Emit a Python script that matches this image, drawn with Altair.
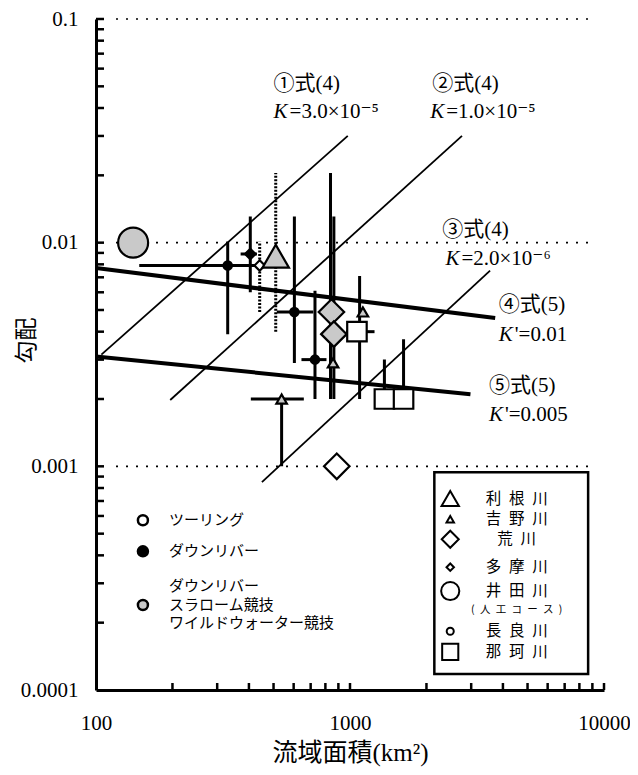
import altair as alt
import pandas as pd

# ---------------- data ----------------
# reference lines (two end points each): equation number, equation, basin area, gradient
line_id = ["①", "①", "②", "②", "③", "③", "④", "④", "⑤", "⑤"]
line_eq = ["式(4)", "式(4)", "式(4)", "式(4)", "式(4)", "式(4)", "式(5)", "式(5)", "式(5)", "式(5)"]
line_area = [105, 980, 196, 2760, 450, 3560, 100, 3730, 100, 2980]
line_grad = [0.00316, 0.0300, 0.00198, 0.0300, 0.00085, 0.0075, 0.0077, 0.0046, 0.0031, 0.0021]

# observed points
pt_area = [140, 330, 405, 441, 510, 604, 728, 845, 864, 858, 1124, 1065, 1366, 1625, 538, 887]
pt_grad = [0.0100, 0.0079, 0.0089, 0.0079, 0.0087, 0.0049, 0.0030, 0.0049, 0.0039,
           0.0029, 0.0049, 0.0040, 0.0020, 0.0020, 0.0020, 0.0010]
pt_river = ["井田川", "長良川", "多摩川", "多摩川", "利根川", "長良川", "長良川", "荒川", "荒川",
            "吉野川", "吉野川", "那珂川", "那珂川", "那珂川", "吉野川", "荒川"]
pt_type = ["競技", "ダウンリバー", "ダウンリバー", "ツーリング", "競技", "ダウンリバー", "ダウンリバー",
           "競技", "競技", "競技", "競技", "ツーリング", "ツーリング", "ツーリング", "競技", "ツーリング"]

# vertical ranges (gradient)
vb_area = [330, 405, 441, 510, 604, 728, 838, 864, 1091, 1366, 1625, 538]
vb_lo = [0.0039, 0.0060, 0.0049, 0.0040, 0.0029, 0.0020, 0.0020, 0.0020, 0.0020, 0.0020, 0.0020, 0.0010]
vb_hi = [0.0101, 0.0131, 0.0101, 0.0205, 0.0131, 0.0061, 0.0205, 0.0131, 0.0071, 0.0030, 0.0037, 0.0020]
vb_kind = ["実線", "実線", "点線", "点線", "実線", "実線", "太線", "太線", "太線", "実線", "実線", "実線"]

# horizontal ranges (basin area)
hb_grad = [0.0079, 0.0089, 0.0049, 0.0030, 0.0040, 0.0020]
hb_lo = [148, 371, 515, 644, 965, 407]
hb_hi = [450, 430, 717, 808, 1249, 658]

# equation annotations
eq_text = ["①式(4)", "②式(4)", "③式(4)", "④式(5)", "⑤式(5)"]
eq_area = [500, 2110, 2308, 3854, 3523]
eq_grad = [0.0513, 0.0513, 0.01143, 0.00528, 0.00228]
k_rest = ["=3.0×10⁻⁵", "=1.0×10⁻⁵", "=2.0×10⁻⁶", "'=0.01", "'=0.005"]
k_area = [500, 2070, 2375, 3854, 3523]
k_grad = [0.0385, 0.0385, 0.00849, 0.00388, 0.0017]

# river legend (box at lower right)
rivers = ["利根川", "吉野川", "荒川", "多摩川", "井田川", "長良川", "那珂川"]
river_label = ["利\u2002根\u2002川", "吉\u2002野\u2002川", "荒\u2002川", "多\u2002摩\u2002川",
               "井\u2002田\u2002川", "長\u2002良\u2002川", "那\u2002珂\u2002川"]
river_leg_grad = [0.000718, 0.000580, 0.000472, 0.000354, 0.000277, 0.000183, 0.000148]
river_leg_sym_area = 2481
river_leg_txt_area = 4530
note_text = ["(\u2002人\u2002工\u2002コ\u2002ー\u2002ス\u2002)"]
note_grad = [0.000228]
box_area = [2148, 8660]
box_grad = [0.000118, 0.00094]

# activity legend (lower left)
types = ["ツーリング", "ダウンリバー", "競技"]
type_sym_grad = [0.000574, 0.000417, 0.000240]
type_leg_sym_area = 153
type_text_rows = ["ツーリング", "ダウンリバー", "ダウンリバー", "スラローム競技", "ワイルドウォーター競技"]
type_text_grad = [0.000574, 0.000417, 0.000291, 0.000241, 0.000199]
type_leg_txt_area = 194

# axis ticks
y_ticks = [0.0002, 0.0003, 0.0004, 0.0005, 0.0006, 0.0007, 0.0008, 0.0009, 0.001,
           0.002, 0.003, 0.004, 0.005, 0.006, 0.007, 0.008, 0.009, 0.01,
           0.02, 0.03, 0.04, 0.05, 0.06, 0.07, 0.08, 0.09, 0.1]
x_ticks = [200, 300, 400, 500, 600, 700, 800, 900, 1000,
           2000, 3000, 4000, 5000, 6000, 7000, 8000, 9000, 10000]
grid_vals = [0.1, 0.01, 0.001]

# ---------------- chart ----------------
W, H = 508, 671
SERIF = "Liberation Serif, Noto Sans CJK JP"
JP = "Noto Sans CJK JP"

xs = alt.Scale(type="log", domain=[100, 10000])
ys = alt.Scale(type="log", domain=[0.0001, 0.1])

x_axis = alt.Axis(values=[100, 1000, 10000], format="d", labelFont="Liberation Serif",
                  labelFontSize=21, labelColor="black", labelPadding=22, labelFlush=False,
                  labelOverlap=False, ticks=False, tickSize=0, domainColor="black",
                  domainWidth=3, grid=False, title="流域面積(km²)", titleFont=SERIF,
                  titleFontSize=25, titleFontWeight="normal", titleColor="black",
                  titleBaseline="middle", titleY=62)
y_axis = alt.Axis(values=[0.0001, 0.001, 0.01, 0.1], format="~g", labelFont="Liberation Serif",
                  labelFontSize=21, labelColor="black", labelPadding=18, labelOverlap=False,
                  labelFlush=False, ticks=False, tickSize=0, domainColor="black", domainWidth=3,
                  grid=False, title="勾配", titleFont=JP, titleFontSize=23,
                  titleFontWeight="normal", titleColor="black", titleAngle=270,
                  titleAlign="center", titleBaseline="middle", titleX=-70, titleY=321)


def X(f):
    return alt.X(f, type="quantitative", scale=xs, axis=x_axis)


def Y(f):
    return alt.Y(f, type="quantitative", scale=ys, axis=y_axis)


shape_scale = alt.Scale(domain=rivers, range=["triangle-up", "triangle-up", "diamond", "diamond",
                                              "circle", "circle", "square"])
fill_scale = alt.Scale(domain=types, range=["white", "black", "#c9c9c9"])

lines_df = pd.DataFrame({"id": line_id, "eq": line_eq, "area": line_area, "grad": line_grad})
pts_df = pd.DataFrame({"area": pt_area, "grad": pt_grad, "river": pt_river, "type": pt_type})
vb_df = pd.DataFrame({"area": vb_area, "lo": vb_lo, "hi": vb_hi, "kind": vb_kind})
hb_df = pd.DataFrame({"grad": hb_grad, "lo": hb_lo, "hi": hb_hi})
eq_df = pd.DataFrame({"area": eq_area, "grad": eq_grad, "t": eq_text})
k_df = pd.DataFrame({"area": k_area, "grad": k_grad, "t": k_rest})
leg_df = pd.DataFrame({"river": rivers, "label": river_label, "grad": river_leg_grad,
                       "sx": [river_leg_sym_area] * len(rivers),
                       "tx": [river_leg_txt_area] * len(rivers)})
note_df = pd.DataFrame({"t": note_text, "grad": note_grad, "tx": [river_leg_txt_area]})
box_df = pd.DataFrame({"x1": [box_area[0]], "x2": [box_area[1]],
                       "y1": [box_grad[0]], "y2": [box_grad[1]]})
type_df = pd.DataFrame({"type": types, "sg": type_sym_grad, "sx": [type_leg_sym_area] * 3})
type_txt_df = pd.DataFrame({"t": type_text_rows, "tg": type_text_grad,
                            "tx": [type_leg_txt_area] * len(type_text_rows)})
yt_df = pd.DataFrame({"v": y_ticks})
xt_df = pd.DataFrame({"v": x_ticks})
grid_df = pd.DataFrame({"g": grid_vals})

grid = alt.Chart(grid_df).mark_rule(color="black", strokeWidth=1.6, strokeDash=[2, 8]).encode(
    y=Y("g"), x=alt.value(20), x2=alt.value(498))

lines = alt.Chart(lines_df).mark_line(color="black").encode(
    x=X("area"), y=Y("grad"), detail="id:N",
    strokeWidth=alt.StrokeWidth("eq:N", scale=alt.Scale(domain=["式(4)", "式(5)"], range=[1.8, 4]),
                                legend=None))

vbars = alt.Chart(vb_df).mark_rule(color="black").encode(
    x=X("area"), y=Y("lo"), y2="hi",
    strokeWidth=alt.StrokeWidth("kind:N", scale=alt.Scale(domain=["実線", "点線", "太線"],
                                                          range=[3, 3, 4.5]), legend=None),
    strokeDash=alt.StrokeDash("kind:N", scale=alt.Scale(domain=["実線", "点線", "太線"],
                                                        range=[[1, 0], [2, 1.5], [1, 0]]),
                              legend=None))

hbars = alt.Chart(hb_df).mark_rule(color="black", strokeWidth=3).encode(
    x=X("lo"), x2="hi", y=Y("grad"))

points = alt.Chart(pts_df).mark_point(filled=True, stroke="black", strokeWidth=2.2, opacity=1).encode(
    x=X("area"), y=Y("grad"),
    shape=alt.Shape("river:N", scale=shape_scale, legend=None),
    size=alt.Size("river:N", scale=alt.Scale(type="ordinal", domain=rivers,
                                             range=[700, 110, 650, 110, 900, 70, 380]), legend=None),
    fill=alt.Fill("type:N", scale=fill_scale, legend=None))

eq_labels = alt.Chart(eq_df).mark_text(align="left", baseline="middle", font=SERIF, fontSize=21,
                                       color="black").encode(x=X("area"), y=Y("grad"), text="t:N")
k_italic = alt.Chart(k_df).mark_text(align="left", baseline="middle", font="Liberation Serif",
                                     fontStyle="italic", fontSize=21, color="black").encode(
    x=X("area"), y=Y("grad"), text=alt.value("K"))
k_labels = alt.Chart(k_df).mark_text(align="left", baseline="middle", font="Liberation Serif, DejaVu Serif",
                                     fontSize=21, color="black", dx=16).encode(
    x=X("area"), y=Y("grad"), text="t:N")

box = alt.Chart(box_df).mark_rect(fill="white", stroke="black", strokeWidth=2.5).encode(
    x=X("x1"), x2="x2", y=Y("y1"), y2="y2")

leg_sym = alt.Chart(leg_df).mark_point(filled=True, fill="white", stroke="black", strokeWidth=2,
                                       opacity=1).encode(
    x=X("sx"), y=Y("grad"),
    shape=alt.Shape("river:N", scale=shape_scale, legend=None),
    size=alt.Size("river:N", scale=alt.Scale(type="ordinal", domain=rivers,
                                             range=[300, 55, 290, 55, 330, 50, 260]), legend=None))
leg_txt = alt.Chart(leg_df).mark_text(align="center", baseline="middle", font=JP, fontSize=15.5,
                                      color="black").encode(x=X("tx"), y=Y("grad"), text="label:N")
note_txt = alt.Chart(note_df).mark_text(align="center", baseline="middle", font=JP, fontSize=10.5,
                                        color="black").encode(x=X("tx"), y=Y("grad"), text="t:N")

type_sym = alt.Chart(type_df).mark_point(shape="circle", filled=True, stroke="black", strokeWidth=2.5,
                                         size=100, opacity=1).encode(
    x=X("sx"), y=Y("sg"), fill=alt.Fill("type:N", scale=fill_scale, legend=None))
type_txt = alt.Chart(type_txt_df).mark_text(align="left", baseline="middle", font=JP, fontSize=15,
                                            color="black").encode(
    x=X("tx"), y=Y("tg"), text="t:N")

ytk = alt.Chart(yt_df).mark_rule(color="black", strokeWidth=2.5).encode(
    y=Y("v"), x=alt.value(0), x2=alt.value(8))
xtk = alt.Chart(xt_df).mark_rule(color="black", strokeWidth=2.5).encode(
    x=X("v"), y=alt.value(H), y2=alt.value(H - 7))

chart = alt.layer(
    grid, lines, vbars, hbars, points, eq_labels, k_italic, k_labels,
    box, leg_sym, leg_txt, note_txt, type_sym, type_txt, ytk, xtk
).resolve_scale(
    size="independent", strokeWidth="independent", strokeDash="independent"
).properties(
    width=W, height=H,
    padding={"left": 88, "top": 11, "right": 26, "bottom": 77},
    autosize=alt.AutoSizeParams(type="none"),
    background="white",
).configure_view(stroke=None)

chart.save("out.html", embed_options={"renderer": "svg", "actions": False})
